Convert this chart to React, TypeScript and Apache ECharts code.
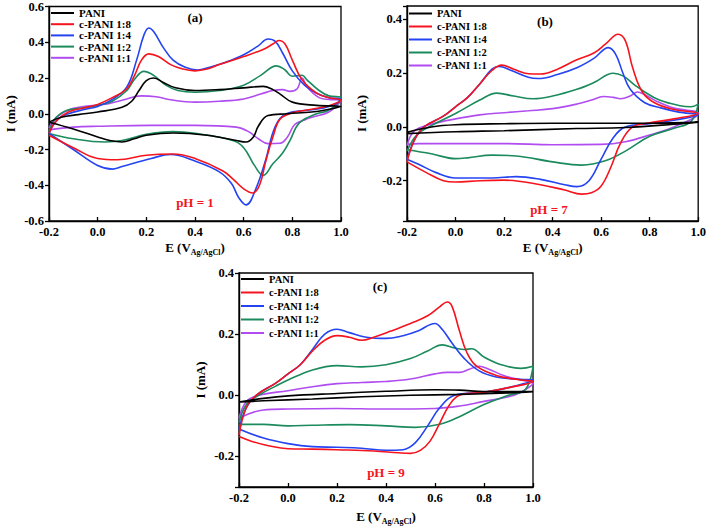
import React, { useEffect, useRef } from 'react';
import * as echarts from 'echarts';

type Pt = [number, number];

const SERIES_NAMES = ['PANI', 'c-PANI 1:8', 'c-PANI 1:4', 'c-PANI 1:2', 'c-PANI 1:1'];
const COLORS = ['#000000', '#f5141e', '#2444f2', '#1b8a5c', '#b04cf0'];
const PANEL_LABELS = ['(a)', '(b)', '(c)'];
const PH_LABELS = ['pH = 1', 'pH = 7', 'pH = 9'];

// ---- Panel (a), pH 1: forward scan then reverse scan (E in V, I in mA)
const aPANI: Pt[] = [
  [-0.2, -0.047], [-0.15, -0.02], [-0.08, -0.005], [0, 0.01], [0.1, 0.036], [0.14, 0.07], [0.17, 0.13], [0.2, 0.185], [0.23, 0.2], [0.27, 0.175], [0.32, 0.145], [0.4, 0.13], [0.5, 0.135], [0.6, 0.145], [0.68, 0.153], [0.72, 0.135], [0.75, 0.11], [0.8, 0.065], [0.9, 0.047], [1.0, 0.04],
  [0.95, 0.025], [0.88, 0.01], [0.78, 0.0], [0.7, -0.01], [0.66, -0.07], [0.64, -0.13], [0.61, -0.158], [0.57, -0.15], [0.45, -0.12], [0.31, -0.108], [0.2, -0.12], [0.15, -0.14], [0.1, -0.158], [0.05, -0.15], [0, -0.13], [-0.1, -0.085], [-0.2, -0.047],
];
const aR18: Pt[] = [
  [-0.2, -0.11], [-0.17, -0.04], [-0.12, 0.01], [-0.05, 0.035], [0, 0.052], [0.06, 0.09], [0.12, 0.14], [0.15, 0.21], [0.18, 0.3], [0.21, 0.335], [0.25, 0.32], [0.3, 0.275], [0.35, 0.25], [0.4, 0.24], [0.45, 0.25], [0.5, 0.275], [0.6, 0.32], [0.68, 0.36], [0.72, 0.39], [0.745, 0.41], [0.77, 0.39], [0.8, 0.3], [0.84, 0.19], [0.9, 0.115], [0.95, 0.09], [1.0, 0.075],
  [0.95, 0.045], [0.88, 0.025], [0.8, 0.005], [0.75, -0.03], [0.72, -0.13], [0.69, -0.27], [0.665, -0.4], [0.637, -0.443], [0.6, -0.42], [0.56, -0.37], [0.515, -0.32], [0.4, -0.25], [0.31, -0.225], [0.2, -0.232], [0.08, -0.257], [0, -0.25], [-0.1, -0.19], [-0.2, -0.12],
];
const aR14: Pt[] = [
  [-0.2, -0.11], [-0.17, -0.04], [-0.12, 0.0], [-0.05, 0.025], [0, 0.041], [0.06, 0.08], [0.12, 0.15], [0.16, 0.3], [0.19, 0.44], [0.21, 0.48], [0.23, 0.46], [0.27, 0.37], [0.31, 0.3], [0.36, 0.26], [0.41, 0.245], [0.46, 0.26], [0.52, 0.285], [0.6, 0.33], [0.66, 0.38], [0.7, 0.418], [0.73, 0.405], [0.76, 0.34], [0.8, 0.24], [0.85, 0.16], [0.9, 0.115], [0.95, 0.09], [1.0, 0.08],
  [0.95, 0.04], [0.88, 0.022], [0.775, 0.0], [0.73, -0.07], [0.69, -0.26], [0.65, -0.42], [0.61, -0.51], [0.58, -0.47], [0.55, -0.39], [0.5, -0.325], [0.4, -0.265], [0.3, -0.228], [0.22, -0.25], [0.1, -0.295], [0.06, -0.31], [0, -0.29], [-0.1, -0.2], [-0.2, -0.11],
];
const aR12: Pt[] = [
  [-0.2, -0.1], [-0.17, -0.02], [-0.125, 0.02], [-0.07, 0.03], [0, 0.047], [0.06, 0.07], [0.12, 0.13], [0.15, 0.19], [0.19, 0.237], [0.23, 0.215], [0.28, 0.16], [0.33, 0.13], [0.4, 0.12], [0.5, 0.13], [0.6, 0.16], [0.67, 0.215], [0.735, 0.268], [0.77, 0.245], [0.8, 0.21], [0.84, 0.215], [0.86, 0.19], [0.91, 0.13], [0.95, 0.1], [1.0, 0.09],
  [0.95, 0.02], [0.9, 0.0], [0.83, -0.05], [0.79, -0.15], [0.76, -0.22], [0.72, -0.28], [0.68, -0.345], [0.645, -0.29], [0.6, -0.19], [0.555, -0.15], [0.4, -0.11], [0.31, -0.1], [0.2, -0.115], [0.1, -0.15], [0.03, -0.158], [-0.1, -0.14], [-0.2, -0.11],
];
const aR11: Pt[] = [
  [-0.2, -0.08], [-0.17, -0.02], [-0.1, 0.03], [0.04, 0.055], [0.1, 0.075], [0.18, 0.1], [0.24, 0.095], [0.3, 0.078], [0.4, 0.065], [0.5, 0.07], [0.6, 0.083], [0.67, 0.11], [0.72, 0.13], [0.76, 0.135], [0.79, 0.125], [0.82, 0.14], [0.84, 0.2], [0.86, 0.15], [0.91, 0.09], [0.95, 0.08], [1.0, 0.075],
  [0.95, 0.01], [0.88, -0.02], [0.85, -0.035], [0.81, -0.06], [0.78, -0.13], [0.75, -0.165], [0.7, -0.167], [0.66, -0.14], [0.62, -0.1], [0.57, -0.075], [0.4, -0.065], [0.22, -0.065], [0, -0.07], [-0.1, -0.075], [-0.2, -0.09],
];

// ---- Panel (b), pH 7
const bPANI: Pt[] = [
  [-0.2, -0.02], [-0.1, 0.0], [0, 0.008], [0.2, 0.012], [0.4, 0.014], [0.6, 0.014], [0.8, 0.014], [1.0, 0.018],
  [0.9, 0.01], [0.7, -0.002], [0.5, -0.006], [0.2, -0.014], [0, -0.018], [-0.2, -0.025],
];
const bR18: Pt[] = [
  [-0.2, -0.13], [-0.17, -0.05], [-0.13, 0.0], [-0.05, 0.04], [0, 0.075], [0.05, 0.11], [0.1, 0.16], [0.15, 0.21], [0.19, 0.23], [0.24, 0.215], [0.3, 0.198], [0.35, 0.197], [0.42, 0.215], [0.5, 0.25], [0.57, 0.275], [0.62, 0.31], [0.67, 0.345], [0.7, 0.32], [0.73, 0.22], [0.77, 0.13], [0.82, 0.09], [0.9, 0.065], [1.0, 0.05],
  [0.9, 0.03], [0.8, 0.015], [0.73, 0.0], [0.68, -0.06], [0.64, -0.15], [0.6, -0.22], [0.56, -0.245], [0.52, -0.25], [0.45, -0.235], [0.35, -0.215], [0.2, -0.198], [0.1, -0.2], [0, -0.205], [-0.05, -0.2], [-0.12, -0.17], [-0.2, -0.13],
];
const bR14: Pt[] = [
  [-0.2, -0.12], [-0.17, -0.05], [-0.13, 0.0], [-0.05, 0.04], [0, 0.075], [0.05, 0.11], [0.1, 0.16], [0.15, 0.215], [0.18, 0.225], [0.23, 0.21], [0.3, 0.185], [0.34, 0.18], [0.42, 0.195], [0.5, 0.22], [0.57, 0.255], [0.63, 0.295], [0.66, 0.27], [0.69, 0.2], [0.72, 0.14], [0.78, 0.09], [0.85, 0.07], [0.92, 0.055], [1.0, 0.045],
  [0.9, 0.025], [0.8, 0.012], [0.7, 0.0], [0.65, -0.04], [0.6, -0.12], [0.55, -0.2], [0.5, -0.222], [0.45, -0.215], [0.35, -0.195], [0.25, -0.185], [0.15, -0.19], [0.05, -0.19], [0, -0.19], [-0.08, -0.17], [-0.15, -0.14], [-0.2, -0.12],
];
const bR12: Pt[] = [
  [-0.2, -0.09], [-0.16, -0.03], [-0.1, 0.005], [0, 0.05], [0.1, 0.1], [0.17, 0.126], [0.24, 0.115], [0.32, 0.105], [0.4, 0.115], [0.5, 0.14], [0.57, 0.165], [0.65, 0.2], [0.69, 0.19], [0.74, 0.155], [0.78, 0.13], [0.84, 0.1], [0.92, 0.08], [0.97, 0.075], [1.0, 0.085],
  [0.97, 0.02], [0.9, -0.005], [0.8, -0.035], [0.7, -0.09], [0.62, -0.125], [0.52, -0.142], [0.4, -0.13], [0.25, -0.108], [0.15, -0.105], [0.05, -0.115], [0, -0.118], [-0.1, -0.1], [-0.2, -0.085],
];
const bR11: Pt[] = [
  [-0.2, -0.07], [-0.17, -0.015], [-0.1, 0.01], [0, 0.03], [0.1, 0.045], [0.2, 0.053], [0.3, 0.06], [0.4, 0.068], [0.5, 0.085], [0.56, 0.1], [0.61, 0.113], [0.65, 0.11], [0.68, 0.105], [0.72, 0.115], [0.75, 0.13], [0.78, 0.12], [0.83, 0.095], [0.9, 0.07], [1.0, 0.05],
  [0.9, 0.0], [0.8, -0.03], [0.7, -0.055], [0.6, -0.065], [0.4, -0.066], [0.2, -0.062], [0, -0.062], [-0.15, -0.062], [-0.2, -0.065],
];

// ---- Panel (c), pH 9
const cPANI: Pt[] = [
  [-0.2, -0.022], [-0.1, -0.01], [0, -0.002], [0.2, 0.006], [0.4, 0.013], [0.6, 0.018], [0.7, 0.017], [0.8, 0.012], [1.0, 0.012],
  [0.9, 0.008], [0.7, 0.003], [0.5, 0.0], [0.3, -0.005], [0.1, -0.012], [-0.1, -0.018], [-0.2, -0.022],
];
const cR18: Pt[] = [
  [-0.2, -0.13], [-0.17, -0.04], [-0.13, 0.0], [-0.05, 0.04], [0, 0.07], [0.05, 0.1], [0.1, 0.145], [0.15, 0.18], [0.2, 0.195], [0.25, 0.19], [0.3, 0.18], [0.35, 0.19], [0.42, 0.21], [0.5, 0.235], [0.57, 0.26], [0.62, 0.29], [0.65, 0.305], [0.67, 0.29], [0.7, 0.21], [0.73, 0.14], [0.77, 0.095], [0.85, 0.065], [0.95, 0.05], [1.0, 0.045],
  [0.9, 0.025], [0.8, 0.01], [0.7, 0.0], [0.66, -0.03], [0.62, -0.09], [0.58, -0.15], [0.54, -0.18], [0.5, -0.19], [0.45, -0.188], [0.35, -0.182], [0.2, -0.178], [0.1, -0.176], [0, -0.175], [-0.08, -0.165], [-0.15, -0.15], [-0.2, -0.135],
];
const cR14: Pt[] = [
  [-0.2, -0.11], [-0.17, -0.04], [-0.13, 0.0], [-0.05, 0.04], [0, 0.07], [0.05, 0.1], [0.1, 0.15], [0.15, 0.2], [0.2, 0.216], [0.25, 0.205], [0.32, 0.19], [0.4, 0.186], [0.47, 0.195], [0.53, 0.21], [0.6, 0.235], [0.63, 0.215], [0.67, 0.17], [0.72, 0.12], [0.78, 0.08], [0.85, 0.06], [0.95, 0.052], [1.0, 0.05],
  [0.9, 0.025], [0.8, 0.01], [0.68, 0.0], [0.62, -0.04], [0.57, -0.1], [0.52, -0.155], [0.47, -0.178], [0.4, -0.18], [0.3, -0.173], [0.2, -0.17], [0.1, -0.168], [0, -0.158], [-0.1, -0.14], [-0.2, -0.11],
];
const cR12: Pt[] = [
  [-0.2, -0.09], [-0.17, -0.03], [-0.12, 0.0], [-0.05, 0.03], [0, 0.05], [0.1, 0.083], [0.2, 0.097], [0.3, 0.093], [0.4, 0.1], [0.5, 0.12], [0.57, 0.145], [0.63, 0.165], [0.68, 0.155], [0.72, 0.15], [0.75, 0.152], [0.8, 0.125], [0.87, 0.1], [0.95, 0.088], [1.0, 0.095],
  [0.97, 0.02], [0.9, 0.0], [0.8, -0.03], [0.7, -0.07], [0.62, -0.095], [0.52, -0.105], [0.4, -0.1], [0.25, -0.096], [0.1, -0.098], [0, -0.1], [-0.1, -0.095], [-0.2, -0.095],
];
const cR11: Pt[] = [
  [-0.2, -0.075], [-0.17, -0.02], [-0.12, 0.0], [0, 0.015], [0.1, 0.028], [0.2, 0.038], [0.3, 0.042], [0.4, 0.045], [0.5, 0.053], [0.6, 0.07], [0.65, 0.075], [0.7, 0.075], [0.74, 0.085], [0.78, 0.095], [0.82, 0.085], [0.88, 0.065], [0.95, 0.05], [1.0, 0.04],
  [0.95, 0.01], [0.9, -0.005], [0.8, -0.02], [0.7, -0.035], [0.6, -0.043], [0.4, -0.045], [0.2, -0.043], [0, -0.045], [-0.1, -0.048], [-0.2, -0.075],
];

const PANEL_DATA: Pt[][][] = [
  [aPANI, aR18, aR14, aR12, aR11],
  [bPANI, bR18, bR14, bR12, bR11],
  [cPANI, cR18, cR14, cR12, cR11],
];
const Y_RANGES: [number, number][] = [[-0.6, 0.6], [-0.35, 0.45], [-0.3, 0.4]];
const X_RANGE: [number, number] = [-0.2, 1.0];

const SERIF = "'Liberation Serif', 'Times New Roman', serif";

const GRIDS = [
  { left: 49, top: 6, width: 292, height: 215 },
  { left: 407, top: 6, width: 292, height: 215 },
  { left: 239, top: 273, width: 294, height: 214 },
];
const LEGENDS = [
  { left: 51, top: 7.5, itemGap: 0.2, fontSize: 11 },
  { left: 409, top: 8, itemGap: 2, fontSize: 10.5 },
  { left: 241, top: 273.5, itemGap: 2.5, fontSize: 10.5 },
];
const Y_NAME_GAPS = [32, 39, 32];
const X_NAME_GAPS = [18, 18, 21];
const TITLE_POS = [[195, 17], [545, 21], [380, 286]];
const PH_POS = [[195, 202], [549, 209], [386, 472]];

const fmt = (v: number) => {
  const k = v / 0.2;
  if (Math.abs(k - Math.round(k)) > 1e-6) return '';
  const r = Math.abs(v) < 1e-9 ? 0 : v;
  return r.toFixed(1);
};

export default function App() {
  const ref = useRef<HTMLDivElement>(null);
  useEffect(() => {
    if (!ref.current) return;
    const chart = echarts.init(ref.current, undefined, { renderer: 'svg' });
    const xAxis: any[] = [];
    const yAxis: any[] = [];
    const grid: any[] = [];
    const legend: any[] = [];
    const series: any[] = [];
    const graphic: any[] = [];
    for (let p = 0; p < 3; p++) {
      grid.push({ ...GRIDS[p], show: true, borderColor: '#000', borderWidth: 1.3, backgroundColor: 'transparent' });
      xAxis.push({
        type: 'value', gridIndex: p, min: X_RANGE[0], max: X_RANGE[1], interval: 0.2,
        axisLine: { onZero: false, lineStyle: { color: '#000', width: 1.4 } },
        axisTick: { inside: true, length: 4, lineStyle: { color: '#000', width: 1.3 } },
        axisLabel: { formatter: fmt, color: '#000', fontFamily: SERIF, fontWeight: 'bold', fontSize: 12.5, margin: 4 },
        splitLine: { show: false },
        name: '{m|E (V}{s|Ag/AgCl}{m|)}',
        nameLocation: 'middle', nameGap: X_NAME_GAPS[p],
        nameTextStyle: {
          rich: {
            m: { fontFamily: SERIF, fontWeight: 'bold', fontSize: 13, color: '#000' },
            s: { fontFamily: SERIF, fontWeight: 'bold', fontSize: 8, color: '#000', padding: [9, 0, 0, 0] },
          },
        },
      });
      yAxis.push({
        type: 'value', gridIndex: p, min: Y_RANGES[p][0], max: Y_RANGES[p][1],
        ...(p === 0 ? { interval: 0.2 } : { splitNumber: 4 }),
        axisLine: { onZero: false, lineStyle: { color: '#000', width: 1.4 } },
        axisTick: { inside: false, length: 4, lineStyle: { color: '#000', width: 1.3 } },
        axisLabel: { formatter: fmt, color: '#000', fontFamily: SERIF, fontWeight: 'bold', fontSize: 12.5, margin: 5 },
        splitLine: { show: false },
        name: 'I (mA)', nameLocation: 'middle', nameGap: Y_NAME_GAPS[p], nameRotate: 90,
        nameTextStyle: { fontFamily: SERIF, fontWeight: 'bold', fontSize: 13, color: '#000' },
      });
      legend.push({
        orient: 'vertical', left: LEGENDS[p].left, top: LEGENDS[p].top, padding: 0,
        itemGap: LEGENDS[p].itemGap, itemWidth: 23, itemHeight: 2, icon: 'rect',
        selectedMode: false, data: SERIES_NAMES,
        textStyle: { fontFamily: SERIF, fontWeight: 'bold', fontSize: LEGENDS[p].fontSize, color: '#000', lineHeight: 11 },
      });
      PANEL_DATA[p].forEach((d, i) => {
        series.push({
          type: 'line', name: SERIES_NAMES[i], xAxisIndex: p, yAxisIndex: p,
          data: d, symbol: 'none', showSymbol: false, smooth: 0.4,
          lineStyle: { color: COLORS[i], width: 1.6 }, itemStyle: { color: COLORS[i] },
          z: 3 + (4 - i),
        });
      });
      graphic.push({
        type: 'text', x: TITLE_POS[p][0], y: TITLE_POS[p][1],
        style: { text: PANEL_LABELS[p], fontFamily: SERIF, fontWeight: 'bold', fontSize: 13, fill: '#000', align: 'center', verticalAlign: 'middle' },
      });
      graphic.push({
        type: 'text', x: PH_POS[p][0], y: PH_POS[p][1],
        style: { text: PH_LABELS[p], fontFamily: SERIF, fontWeight: 'bold', fontSize: 13, fill: '#f5141e', align: 'center', verticalAlign: 'middle' },
      });
    }
    chart.setOption({
      animation: false,
      backgroundColor: '#fff',
      grid, xAxis, yAxis, legend, series, graphic,
    });
    return () => chart.dispose();
  }, []);
  return <div ref={ref} style={{ position: 'fixed', left: 0, top: 0, width: 709, height: 532, background: '#fff' }} />;
}
